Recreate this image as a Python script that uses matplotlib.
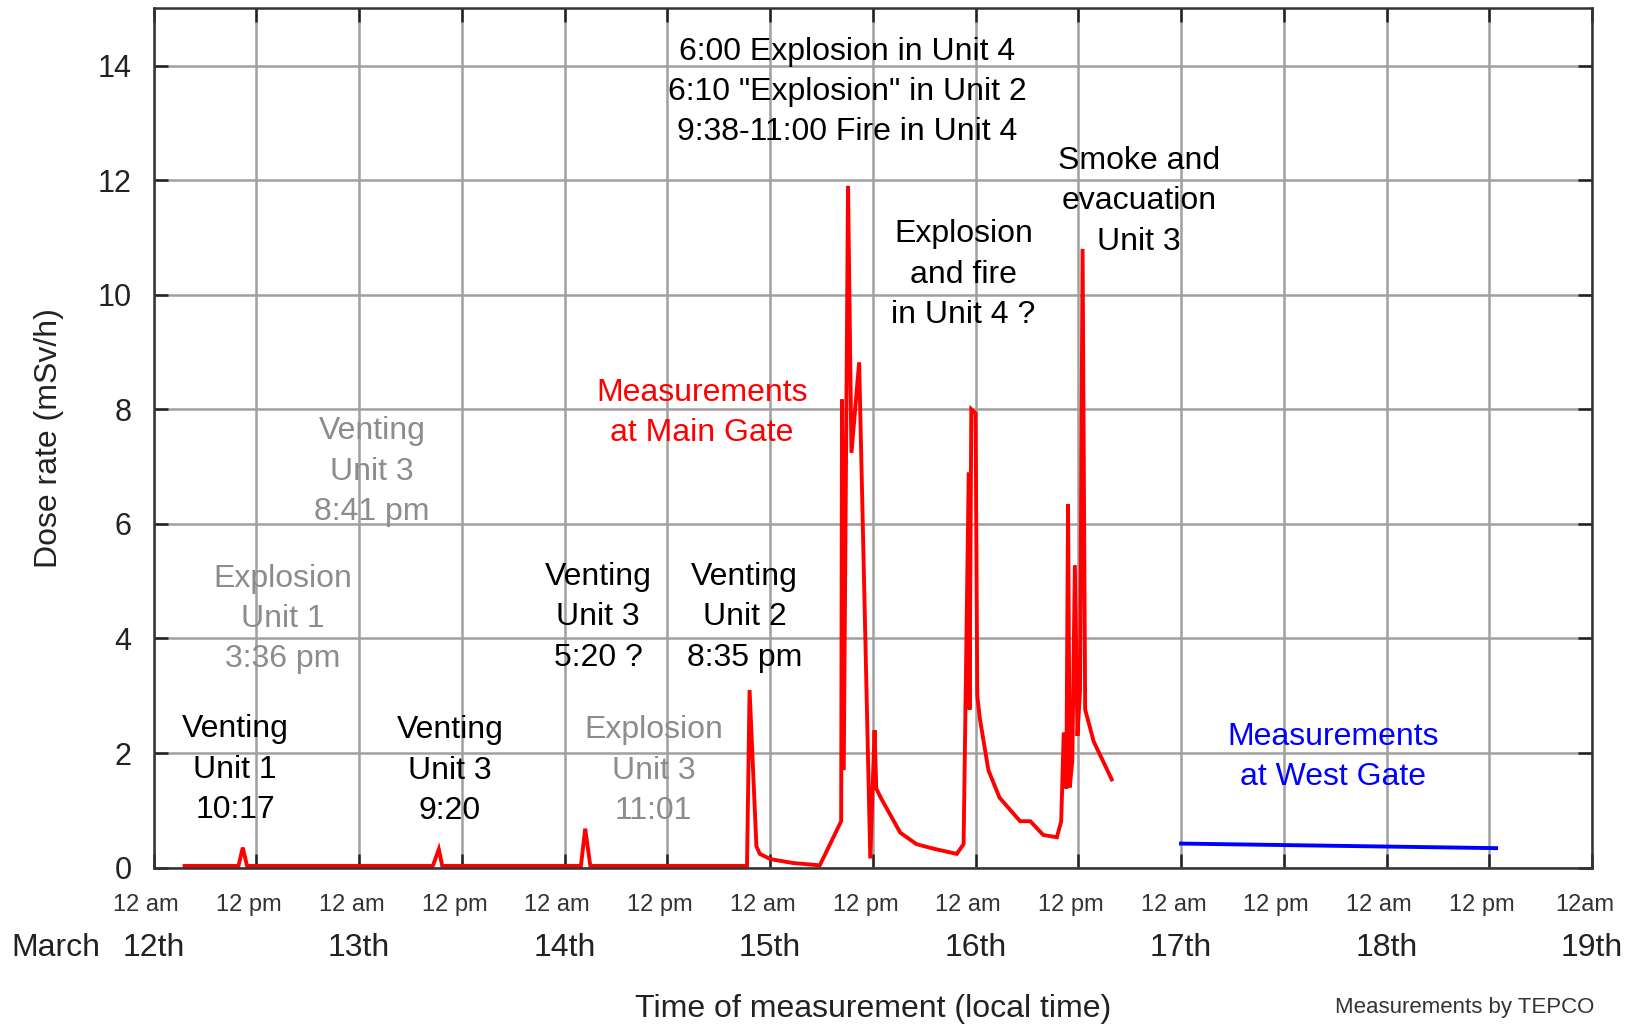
import numpy as np
import matplotlib.pyplot as plt
from matplotlib.transforms import blended_transform_factory, ScaledTranslation

plt.rcParams['font.family'] = ['Liberation Sans', 'DejaVu Sans']

# Main Gate measurements (hours since March 12th 00:00, mSv/h)
main_hours = [3.6, 9.9, 10.4, 10.9, 32.6, 33.3, 33.7, 49.9, 50.4, 51.0, 69.3, 69.6, 70.4, 70.8, 72.0, 74.7,
              77.8, 80.3, 80.4, 80.6, 81.1, 81.5, 82.4, 83.7, 84.2, 84.4, 85.0, 87.2, 89.1, 91.1, 92.6, 93.8,
              94.6, 95.2, 95.3, 95.5, 96.0, 96.2, 96.5, 97.5, 98.8, 101.2, 102.4, 103.9, 105.5, 106.0, 106.3,
              106.6, 106.8, 107.0, 107.3, 107.6, 107.9, 108.2, 108.5, 108.8, 109.8, 111.9]
main_dose = [0.03, 0.03, 0.35, 0.03, 0.03, 0.32, 0.03, 0.03, 0.68, 0.03, 0.03, 3.1, 0.37, 0.24, 0.15, 0.08,
             0.04, 0.81, 8.17, 1.7, 11.9, 7.24, 8.82, 0.16, 2.4, 1.38, 1.2, 0.61, 0.41, 0.33, 0.28, 0.24,
             0.41, 6.9, 2.76, 8.0, 7.93, 3.0, 2.6, 1.7, 1.22, 0.81, 0.81, 0.57, 0.53, 0.81, 2.36,
             1.38, 6.34, 1.4, 1.87, 5.28, 2.3, 3.09, 10.8, 2.76, 2.2, 1.54]

# West Gate measurements
west_hours = [120.0, 156.8]
west_dose = [0.42, 0.34]

tick_hours = np.arange(0, 169, 12)
tick_labels = ["12 am", "12 pm"] * 7 + ["12am"]
day_hours = [0, 24, 48, 72, 96, 120, 144, 168]
day_labels = ["12th", "13th", "14th", "15th", "16th", "17th", "18th", "19th"]

# (text, x hours, y dose, colour)
notes = [
    ('6:00 Explosion in Unit 4\n6:10 "Explosion" in Unit 2\n9:38-11:00 Fire in Unit 4', 81.0, 13.54, 'black'),
    ('Smoke and\nevacuation\nUnit 3', 115.1, 11.63, 'black'),
    ('Explosion\nand fire\nin Unit 4 ?', 94.6, 10.35, 'black'),
    ('Measurements\nat Main Gate', 64.0, 7.93, 'red'),
    ('Venting\nUnit 3\n8:41 pm', 25.5, 6.91, 'gray'),
    ('Explosion\nUnit 1\n3:36 pm', 15.1, 4.34, 'gray'),
    ('Venting\nUnit 3\n5:20 ?', 51.9, 4.37, 'black'),
    ('Venting\nUnit 2\n8:35 pm', 69.0, 4.37, 'black'),
    ('Venting\nUnit 1\n10:17', 9.5, 1.71, 'black'),
    ('Venting\nUnit 3\n9:20', 34.6, 1.69, 'black'),
    ('Explosion\nUnit 3\n11:01', 58.4, 1.69, 'gray'),
    ('Measurements\nat West Gate', 137.8, 1.93, 'blue'),
]

fig = plt.figure(figsize=(16.39, 10.28), dpi=100)
ax = fig.add_axes([0.0938, 0.156, 0.8775, 0.836])

ax.plot(main_hours, main_dose, color='red', lw=2.8, solid_joinstyle='miter')
ax.plot(west_hours, west_dose, color='blue', lw=2.8)

ax.set_xlim(0, 168)
ax.set_ylim(0, 15)
ax.set_yticks(np.arange(0, 15, 2))
ax.set_xticks(tick_hours)
ax.set_xticklabels(tick_labels)
ax.grid(True, color='#a0a0a0', lw=1.8)
ax.set_axisbelow(True)
for s in ax.spines.values():
    s.set_color('#333333')
    s.set_linewidth(1.8)
ax.tick_params(axis='y', direction='in', length=10, width=1.8, labelsize=22, pad=16,
               right=True, colors='#222222')
ax.tick_params(axis='x', direction='in', length=10, width=1.8, labelsize=17, pad=19,
               top=True, colors='#222222')
# the time labels sit a little left of their ticks
shift = ScaledTranslation(-0.075, 0, fig.dpi_scale_trans)
for lab in ax.get_xticklabels():
    lab.set_transform(lab.get_transform() + shift)
    lab.set_color('#333333')

for text, x, y, c in notes:
    col = {'gray': '#8c8c8c'}.get(c, c)
    ax.text(x, y, text, ha='center', va='center', color=col, fontsize=23, linespacing=1.45)

trans = blended_transform_factory(ax.transData, ax.transAxes)
for h, lab in zip(day_hours, day_labels):
    ax.text(h, -0.0936, lab, transform=trans, ha='center', va='center', fontsize=23, color='#222222')
fig.text(0.034, 1 - 948 / 1028, 'March', ha='center', va='center', fontsize=23, color='#222222')

ax.set_ylabel('Dose rate (mSv/h)', fontsize=23, labelpad=24, color='#222222')
fig.text(0.5325, 1 - 1009 / 1028, 'Time of measurement (local time)', ha='center', va='center',
         fontsize=23, color='#222222')
fig.text(0.8935, 1 - 1008 / 1028, 'Measurements by TEPCO', ha='center', va='center',
         fontsize=16, color='#333333')

fig.savefig('out.png', dpi=100)
